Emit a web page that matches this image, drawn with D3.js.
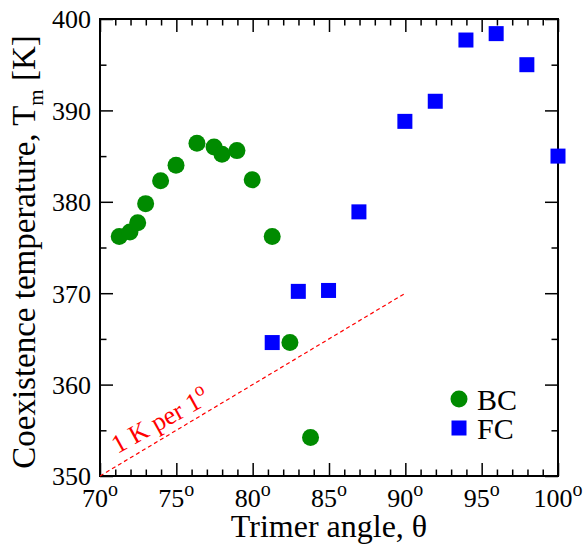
<!DOCTYPE html>
<html>
<head>
<meta charset="utf-8">
<script src="https://cdn.jsdelivr.net/npm/d3@7"></script>
<style>
  body { margin: 0; background: #fff; }
  text { font-family: "Liberation Serif", "Times New Roman", serif; }
</style>
</head>
<body>
<svg id="chart" width="586" height="546"></svg>
<script>
// values
var bcTheta = [71.26, 71.96, 72.47, 72.99, 73.97, 74.98, 76.35, 77.47, 77.99, 78.97, 79.97, 81.28, 82.44, 83.79];
var bcTemp  = [376.2, 376.7, 377.7, 379.8, 382.3, 384.0, 386.4, 386.0, 385.2, 385.6, 382.4, 376.2, 364.6, 354.2];
var fcTheta = [81.28, 82.99, 84.97, 86.96, 89.97, 91.96, 93.97, 95.95, 97.96, 100];
var fcTemp  = [364.6, 370.2, 370.3, 378.9, 388.8, 391.0, 397.7, 398.4, 395.0, 385.0];
var xMajor = [70, 75, 80, 85, 90, 95, 100];
var yMajor = [350, 360, 370, 380, 390, 400];
var guideTheta = [70, 90];
var guideTemp = [350, 370];

var svg = d3.select('#chart');
// note: "top" is a read-only window global, so use prefixed names
var pLeft = 100, pRight = 558, pTop = 19, pBottom = 476;

var x = d3.scaleLinear().domain([70, 100]).range([pLeft, pRight]);
var y = d3.scaleLinear().domain([350, 400]).range([pBottom, pTop]);

var xMinor = d3.range(70, 101, 1).filter(function(v) { return v % 5 !== 0; });
var yMinor = d3.range(355, 400, 10);

function tickStyle(g) {
  g.select('.domain').remove();
  g.selectAll('.tick line').attr('stroke', '#000').attr('stroke-width', 1.5);
}

// major + minor ticks on all four sides, pointing inward
svg.append('g').attr('transform', 'translate(0,' + pBottom + ')')
  .call(d3.axisBottom(x).tickValues(xMajor).tickSizeInner(-13).tickSizeOuter(0).tickFormat(''))
  .call(tickStyle);
svg.append('g').attr('transform', 'translate(0,' + pBottom + ')')
  .call(d3.axisBottom(x).tickValues(xMinor).tickSizeInner(-6.5).tickSizeOuter(0).tickFormat(''))
  .call(tickStyle);
svg.append('g').attr('transform', 'translate(0,' + pTop + ')')
  .call(d3.axisTop(x).tickValues(xMajor).tickSizeInner(-13).tickSizeOuter(0).tickFormat(''))
  .call(tickStyle);
svg.append('g').attr('transform', 'translate(0,' + pTop + ')')
  .call(d3.axisTop(x).tickValues(xMinor).tickSizeInner(-6.5).tickSizeOuter(0).tickFormat(''))
  .call(tickStyle);

var yAxis = svg.append('g').attr('transform', 'translate(' + pLeft + ',0)')
  .call(d3.axisLeft(y).tickValues(yMajor).tickSizeInner(-13).tickSizeOuter(0).tickPadding(9).tickFormat(d3.format('d')))
  .call(tickStyle);
yAxis.selectAll('text')
  .attr('font-family', '"Liberation Serif", serif')
  .attr('font-size', 26)
  .attr('fill', '#000')
  .attr('dy', '0.34em');
svg.append('g').attr('transform', 'translate(' + pLeft + ',0)')
  .call(d3.axisLeft(y).tickValues(yMinor).tickSizeInner(-6.5).tickSizeOuter(0).tickFormat(''))
  .call(tickStyle);
svg.append('g').attr('transform', 'translate(' + pRight + ',0)')
  .call(d3.axisRight(y).tickValues(yMajor).tickSizeInner(-13).tickSizeOuter(0).tickFormat(''))
  .call(tickStyle);
svg.append('g').attr('transform', 'translate(' + pRight + ',0)')
  .call(d3.axisRight(y).tickValues(yMinor).tickSizeInner(-6.5).tickSizeOuter(0).tickFormat(''))
  .call(tickStyle);

// frame
svg.append('rect')
  .attr('x', pLeft).attr('y', pTop)
  .attr('width', pRight - pLeft).attr('height', pBottom - pTop)
  .attr('fill', 'none').attr('stroke', '#000').attr('stroke-width', 2);

// x tick labels with degree superscript
var xl = svg.selectAll('.xlabel').data(xMajor).enter().append('text')
  .attr('class', 'xlabel')
  .attr('x', function(d) { return x(d); })
  .attr('y', pBottom + 31)
  .attr('text-anchor', 'middle')
  .attr('font-size', 26);
xl.append('tspan').text(function(d) { return d; });
xl.append('tspan').attr('font-size', 20).attr('dy', -11).text('o');

// reference slope line
var guide = d3.line()
  .x(function(d, i) { return x(guideTheta[i]); })
  .y(function(d, i) { return y(guideTemp[i]); });
svg.append('path')
  .attr('d', guide(guideTheta))
  .attr('fill', 'none')
  .attr('stroke', '#ff0000')
  .attr('stroke-width', 1.2)
  .attr('stroke-dasharray', '4,3');

var note = svg.append('text')
  .attr('transform', 'translate(' + x(71.15) + ',' + y(352.4) + ') rotate(-29)')
  .attr('fill', '#ff0000')
  .attr('font-size', 26);
note.append('tspan').text('1 K per 1');
note.append('tspan').attr('font-size', 19).attr('dy', -11).text('o');

// data
var bc = bcTheta.map(function(t, i) { return [t, bcTemp[i]]; });
var fc = fcTheta.map(function(t, i) { return [t, fcTemp[i]]; });

svg.selectAll('.bc').data(bc).enter().append('circle')
  .attr('class', 'bc')
  .attr('cx', function(d) { return x(d[0]); })
  .attr('cy', function(d) { return y(d[1]); })
  .attr('r', 8.5)
  .attr('fill', '#008b00');

var sq = 15;
svg.selectAll('.fc').data(fc).enter().append('rect')
  .attr('class', 'fc')
  .attr('x', function(d) { return x(d[0]) - sq / 2; })
  .attr('y', function(d) { return y(d[1]) - sq / 2; })
  .attr('width', sq).attr('height', sq)
  .attr('fill', '#0000ff');

// legend
svg.append('circle').attr('cx', 459).attr('cy', 399).attr('r', 8.5).attr('fill', '#008b00');
svg.append('text').attr('x', 477).attr('y', 410).attr('font-size', 30).text('BC');
svg.append('rect').attr('x', 459 - sq / 2).attr('y', 428 - sq / 2)
  .attr('width', sq).attr('height', sq).attr('fill', '#0000ff');
svg.append('text').attr('x', 477).attr('y', 439).attr('font-size', 30).text('FC');

// axis titles
svg.append('text')
  .attr('x', (pLeft + pRight) / 2).attr('y', 537)
  .attr('text-anchor', 'middle')
  .attr('font-size', 32)
  .text('Trimer angle, \u03b8');

var yt = svg.append('text')
  .attr('transform', 'translate(35,252) rotate(-90)')
  .attr('text-anchor', 'middle')
  .attr('font-size', 33);
yt.append('tspan').text('Coexistence temperature, T');
yt.append('tspan').attr('font-size', 21).attr('dy', 8).text('m');
yt.append('tspan').attr('dy', -8).text(' [K]');
</script>
</body>
</html>
